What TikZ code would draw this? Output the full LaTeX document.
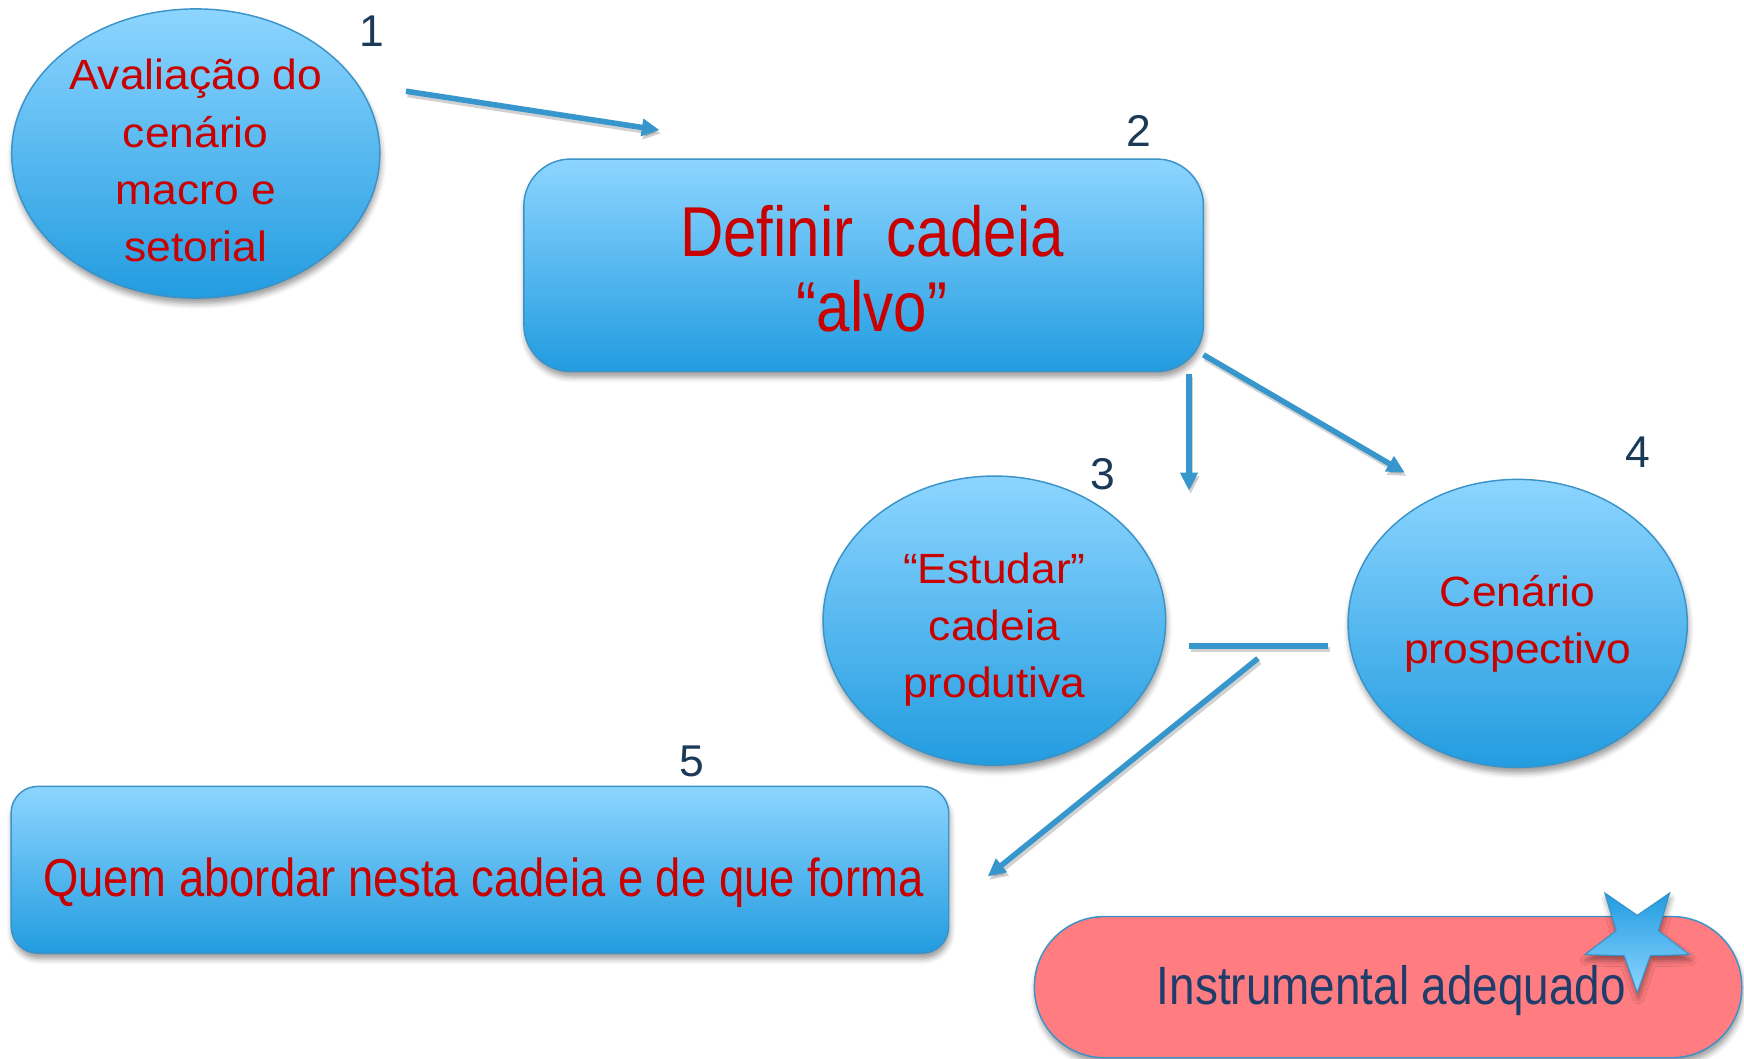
\documentclass[tikz,border=0pt]{standalone}
\usepackage{fontspec}
\setmainfont{Liberation Sans}
\newfontfamily\widefont[FakeStretch=1.05]{Liberation Sans}
\newfontfamily\narrowfont[FakeStretch=0.85]{Liberation Sans}
\usetikzlibrary{shadows,shadows.blur,arrows.meta,shapes.geometric}
\definecolor{nodetop}{HTML}{8DD5FF}
\definecolor{nodebot}{HTML}{229CE0}
\definecolor{edgec}{HTML}{3A93C8}
\definecolor{arrowc}{HTML}{3797CC}
\definecolor{txtred}{HTML}{C80000}
\definecolor{numc}{HTML}{1B3A57}
\definecolor{pillc}{HTML}{FF7C80}
\definecolor{navyc}{HTML}{1F3D6B}
\begin{document}
\begin{tikzpicture}[x=1pt,y=-1pt,
  softshadow/.style={blur shadow={shadow xshift=1pt,shadow yshift=-5pt,shadow blur radius=5pt,shadow opacity=40}},
  bluefill/.style={draw=edgec,line width=1.3pt,top color=nodetop,bottom color=nodebot,softshadow},
  ellnode/.style={bluefill,ellipse,inner sep=0pt},
  rectnode/.style={bluefill,rectangle,inner sep=0pt},
  elltext/.style={align=center,text=txtred,inner sep=0pt,font=\widefont\fontsize{38}{51.5}\selectfont},
  numlabel/.style={text=numc,font=\fontsize{40}{40}\selectfont,inner sep=0pt},
  conn/.style={draw=arrowc,line width=5pt,
    preaction={draw=black,opacity=0.18,line width=5pt,transform canvas={shift={(1.5pt,-3pt)}}}},
  arr/.style={conn,-{Triangle[length=16pt,width=15pt]}}
]
\useasboundingbox (0,0) rectangle (1568,952);

% shapes
\node[ellnode,minimum width=331pt,minimum height=260pt] (e1) at (176,138) {};
\node[rectnode,rounded corners=42pt,minimum width=611pt,minimum height=191pt] (b2) at (776.5,238.5) {};
\node[ellnode,minimum width=308pt,minimum height=260pt] (e3) at (894,558) {};
\node[ellnode,minimum width=305pt,minimum height=259pt] (e4) at (1364.5,560.5) {};
\node[rectnode,rounded corners=24pt,minimum width=843pt,minimum height=150pt] (b5) at (431.5,782) {};
\node[draw=edgec,line width=1.3pt,fill=pillc,rectangle,rounded corners=63pt,
  minimum width=636pt,minimum height=127pt,inner sep=0pt,softshadow] (p6) at (1248,887.5) {};

% texts
\node[elltext,yshift=-6.5pt] (t1) at (e1) {Avaliação do\\cenário\\macro e\\setorial};
\node[align=center,text=txtred,inner sep=0pt,font=\narrowfont\fontsize{63.5}{67.5}\selectfont,
  xshift=7.5pt,yshift=-3pt] (t2) at (b2) {Definir\ \ cadeia\\“alvo”};
\node[elltext,yshift=-8pt] (t3) at (e3) {“Estudar”\\cadeia\\produtiva};
\node[elltext,yshift=-0.5pt] (t4) at (e4) {Cenário\\prospectivo};
\node[text=txtred,inner sep=0pt,font=\narrowfont\fontsize{48}{52}\selectfont,
  xshift=3pt,yshift=-12pt] (t5) at (b5) {Quem abordar nesta cadeia e de que forma};
\node[text=navyc,inner sep=0pt,font=\narrowfont\fontsize{48.5}{52}\selectfont,
  xshift=3pt,yshift=-3pt] (t6) at (p6) {Instrumental adequado};

% star
\coordinate (starc) at (1472,843);
\draw[shift={(starc)},draw=edgec,line width=1pt,top color=nodebot,bottom color=nodetop,softshadow]
  (90:49.5) -- (126:20) -- (162:49.5) -- (198:20) -- (234:49.5) -- (270:20)
  -- (306:49.5) -- (342:20) -- (18:49.5) -- (54:20) -- cycle;

% numbers
\node[numlabel] (n1) at (334,28) {1};
\node[numlabel] (n2) at (1024,118) {2};
\node[numlabel] (n3) at (992,426) {3};
\node[numlabel] (n4) at (1473,407) {4};
\node[numlabel] (n5) at (622,685) {5};

% connectors
\coordinate (a1s) at (365,82);
\coordinate (a1e) at (593,117);
\coordinate (a2s) at (1069,336);
\coordinate (a2e) at (1069,441);
\coordinate (a3s) at (1082,319);
\coordinate (a3e) at (1263,425);
\coordinate (ls) at (1069,581);
\coordinate (le) at (1194,581);
\coordinate (a4s) at (1131,592);
\coordinate (a4e) at (888,788);
\draw[arr] (a1s) -- (a1e);
\draw[arr] (a2s) -- (a2e);
\draw[arr] (a3s) -- (a3e);
\draw[conn] (ls) -- (le);
\draw[arr] (a4s) -- (a4e);
\end{tikzpicture}
\end{document}
